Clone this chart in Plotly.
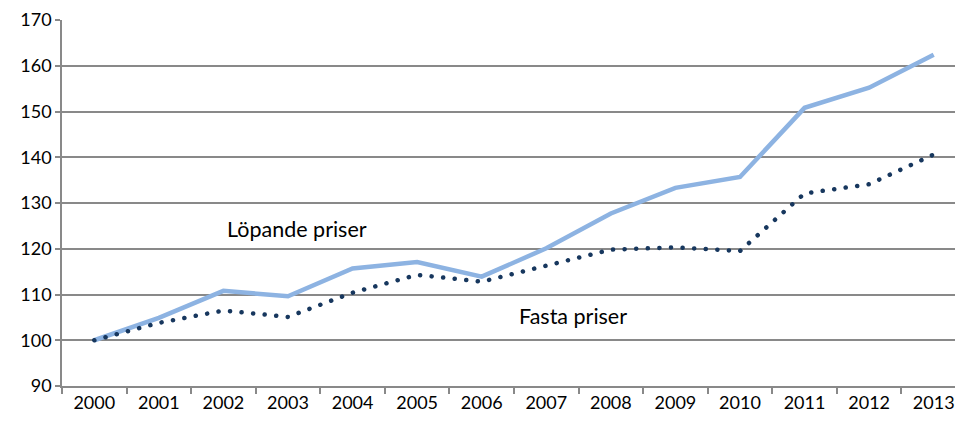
import plotly.graph_objects as go

years = ["2000", "2001", "2002", "2003", "2004", "2005", "2006",
         "2007", "2008", "2009", "2010", "2011", "2012", "2013"]
lopande = [100, 104.9, 110.8, 109.6, 115.7, 117.1, 113.9,
           120.1, 127.7, 133.3, 135.7, 150.8, 155.2, 162.4]
fasta = [100, 103.8, 106.5, 105.1, 110.4, 114.3, 112.8,
         116.3, 119.8, 120.3, 119.5, 132.1, 134.1, 140.6]
y_ticks = [90, 100, 110, 120, 130, 140, 150, 160, 170]

FONT = "Lato"
GRID = "#898989"

fig = go.Figure()
fig.add_trace(go.Scatter(
    x=years, y=lopande, mode="lines", name="Löpande priser",
    line=dict(color="#8DB3E2", width=4.5),
))
fig.add_trace(go.Scatter(
    x=years, y=fasta, mode="lines", name="Fasta priser",
    line=dict(color="#17375E", width=4.5, dash="4px,7.6px"),
))

fig.add_annotation(x=3.14, y=124.3, text="Löpande priser", showarrow=False,
                   font=dict(family=FONT, size=21.5, color="#000000"))
fig.add_annotation(x=7.41, y=105.3, text="Fasta priser", showarrow=False,
                   font=dict(family=FONT, size=21.5, color="#000000"))

fig.update_layout(
    width=955, height=421,
    margin=dict(l=62, r=0, t=20, b=35),
    paper_bgcolor="white", plot_bgcolor="white",
    showlegend=False,
    hovermode=False,
    font=dict(family=FONT, size=18, color="#000000"),
    xaxis=dict(
        type="category", range=[-0.5, 13.33],
        showgrid=False, zeroline=False,
        showline=True, linecolor=GRID, linewidth=1.5,
        ticks="outside", tickson="boundaries", ticklen=6, tickcolor=GRID, tickwidth=1.5,
        tickfont=dict(family=FONT, size=18),
    ),
    yaxis=dict(
        range=[90, 170], tickvals=y_ticks,
        showgrid=True, gridcolor=GRID, gridwidth=1.5,
        zeroline=False,
        showline=True, linecolor=GRID, linewidth=1.5,
        ticks="outside", ticklen=5, tickcolor=GRID, tickwidth=1.5,
        tickfont=dict(family=FONT, size=18),
    ),
)

post = (
    "document.body.style.margin='0';"
    "document.body.style.overflow='hidden';"
    "var tr=document.querySelectorAll('.scatterlayer .trace');"
    "if(tr.length>1){var p=tr[1].querySelector('.js-line');"
    "if(p){p.style.strokeLinecap='round';p.style.strokeDasharray='0.1px,11.5px';}}"
)

fig.write_html(
    "out.html",
    config={"displayModeBar": False},
    post_script=post,
)
